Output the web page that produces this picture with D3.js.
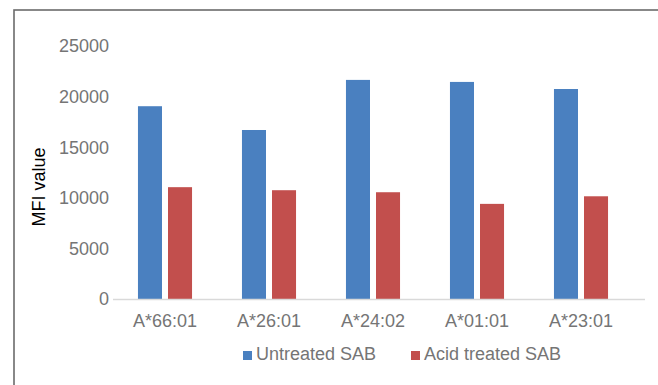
<!DOCTYPE html>
<html>
<head>
<meta charset="utf-8">
<script src="https://cdn.jsdelivr.net/npm/d3@7"></script>
<style>
  html, body { margin: 0; padding: 0; background: #fff; }
  svg { display: block; font-family: "Liberation Sans", Arial, sans-serif; }
</style>
</head>
<body>
<div id="viz"></div>
<script>
const categories = ["A*66:01", "A*26:01", "A*24:02", "A*01:01", "A*23:01"];
const seriesNames = ["Untreated SAB", "Acid treated SAB"];
const untreated = [19050, 16700, 21650, 21450, 20750];
const acidTreated = [11050, 10750, 10550, 9400, 10150];
const yTicks = [0, 5000, 10000, 15000, 20000, 25000];

const colors = ["#4A80C0", "#C24F4D"];
const width = 658, height = 385;

const svg = d3.select("#viz")
  .append("svg")
    .attr("width", width)
    .attr("height", height);

// outer frame
svg.append("rect")
  .attr("x", 14)
  .attr("y", 10)
  .attr("width", 700)
  .attr("height", 420)
  .attr("fill", "none")
  .attr("stroke", "#6b6b6b")
  .attr("stroke-width", 1.6);

const x0 = d3.scaleBand()
  .domain(categories)
  .range([113, 633])
  .paddingInner(0.48)
  .paddingOuter(0.24);

const x1 = d3.scaleBand()
  .domain(seriesNames)
  .range([0, x0.bandwidth()])
  .paddingInner(0.2);

const y = d3.scaleLinear()
  .domain([0, 25000])
  .range([299, 46]);

const rows = categories.map((c, i) => ({
  cat: c,
  values: [untreated[i], acidTreated[i]]
}));

// y tick labels
svg.append("g")
  .selectAll("text")
  .data(yTicks)
  .join("text")
    .attr("x", 109)
    .attr("y", d => y(d))
    .attr("dy", "0.35em")
    .attr("text-anchor", "end")
    .style("font-size", "18px")
    .style("fill", "#757575")
    .text(d => d);

// bars
const groups = svg.append("g")
  .selectAll("g")
  .data(rows)
  .join("g")
    .attr("transform", d => `translate(${x0(d.cat)},0)`);

groups.selectAll("rect")
  .data(d => d.values.map((v, i) => ({ key: seriesNames[i], value: v, i })))
  .join("rect")
    .attr("x", d => x1(d.key))
    .attr("y", d => y(d.value))
    .attr("width", x1.bandwidth())
    .attr("height", d => y(0) - y(d.value))
    .attr("fill", d => colors[d.i]);

// baseline
svg.append("line")
  .attr("x1", 113)
  .attr("x2", 645)
  .attr("y1", y(0) + 0.5)
  .attr("y2", y(0) + 0.5)
  .attr("stroke", "#d9d9d9")
  .attr("stroke-width", 1.5);

// category labels
svg.append("g")
  .selectAll("text")
  .data(categories)
  .join("text")
    .attr("x", d => x0(d) + x0.bandwidth() / 2)
    .attr("y", 327)
    .attr("text-anchor", "middle")
    .style("font-size", "18px")
    .style("fill", "#757575")
    .text(d => d);

// y axis title
svg.append("text")
  .attr("transform", "translate(45,187) rotate(-90)")
  .attr("text-anchor", "middle")
  .style("font-size", "18px")
  .style("fill", "#000")
  .text("MFI value");

// legend
const legendX = [243, 411];
seriesNames.forEach((name, i) => {
  svg.append("rect")
    .attr("x", legendX[i])
    .attr("y", 351)
    .attr("width", 9)
    .attr("height", 9)
    .attr("fill", colors[i]);
  svg.append("text")
    .attr("x", legendX[i] + 13)
    .attr("y", 360)
    .style("font-size", "18px")
    .style("fill", "#757575")
    .text(name);
});
</script>
</body>
</html>
